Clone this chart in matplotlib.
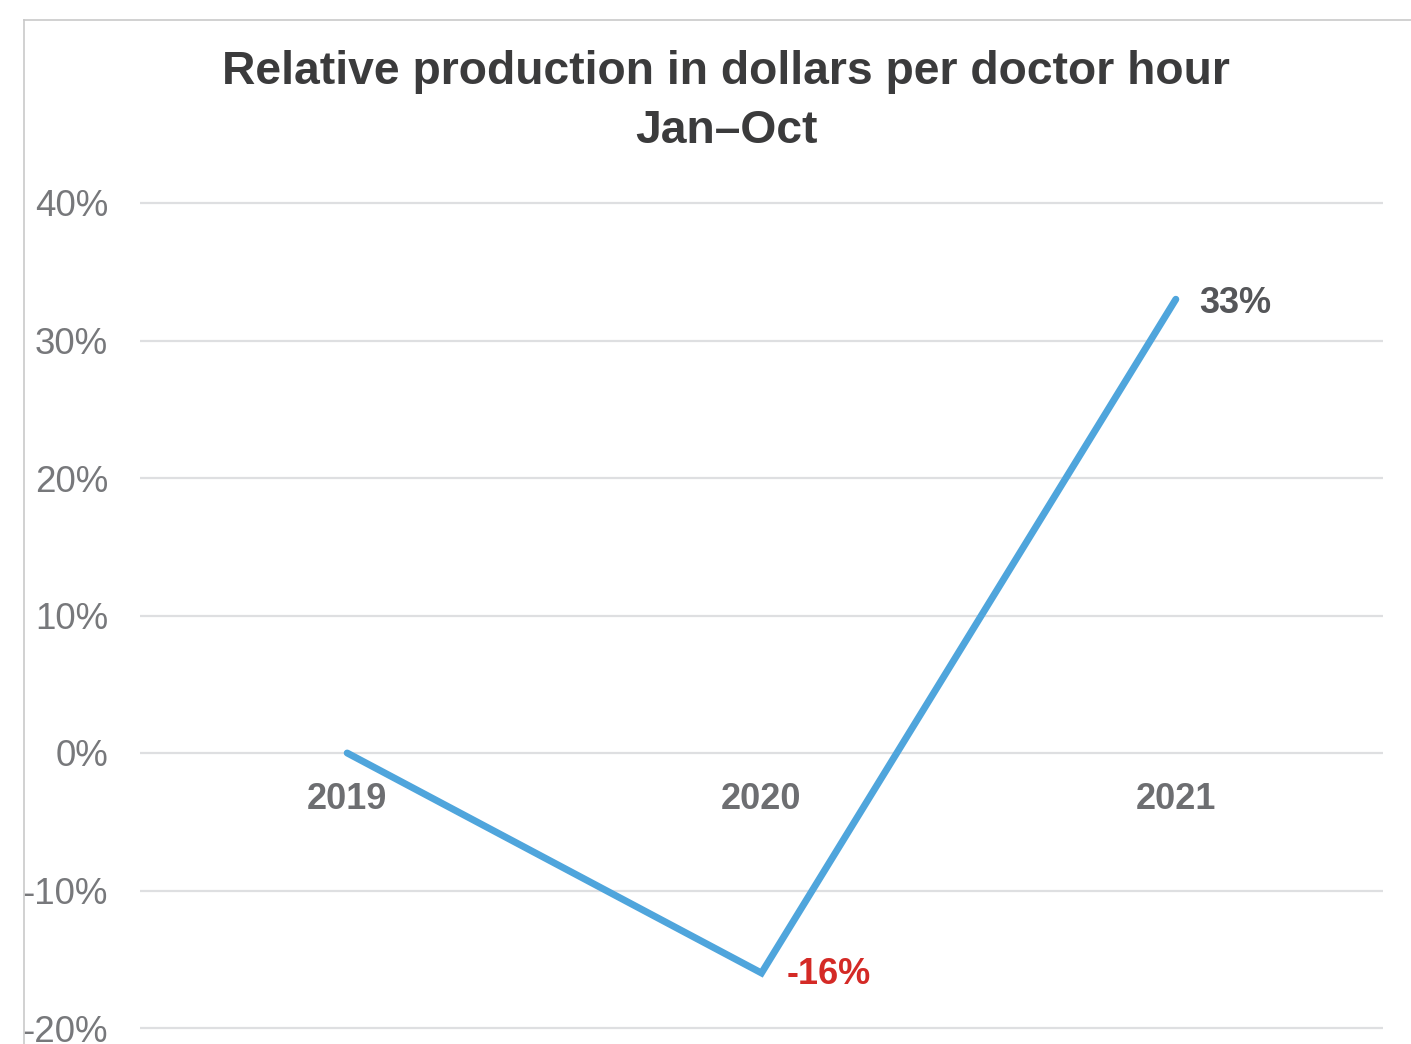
import matplotlib
matplotlib.use("Agg")
import matplotlib.pyplot as plt
from matplotlib.lines import Line2D

# Data
years = ["2019", "2020", "2021"]
relative_change = [0, -16, 33]          # percent vs 2019
y_ticks = [-20, -10, 0, 10, 20, 30, 40]
y_tick_labels = ["-20%", "-10%", "0%", "10%", "20%", "30%", "40%"]

plt.rcParams["font.family"] = ["Liberation Sans", "DejaVu Sans"]

W, H = 1411, 1044
fig = plt.figure(figsize=(W / 100, H / 100), dpi=100)
fig.patch.set_facecolor("white")

# Plot area in pixel coordinates
left_px, right_px = 140, 1383
ymin, ymax = -20.5, 40.5
px_per_unit = 13.75
zero_px = 753
top_px = zero_px - ymax * px_per_unit
bot_px = zero_px - ymin * px_per_unit
ax = fig.add_axes([left_px / W, 1 - bot_px / H,
                   (right_px - left_px) / W, (bot_px - top_px) / H])

x = list(range(len(years)))
ax.set_xlim(-0.5, len(years) - 0.5)
ax.set_ylim(ymin, ymax)

for s in ax.spines.values():
    s.set_visible(False)

ax.set_yticks(y_ticks)
ax.set_yticklabels(y_tick_labels)
ax.tick_params(axis="y", length=0, pad=23, labelsize=26.5, labelcolor="#77787b")
ax.set_xticks([])
for t in y_ticks:
    ax.axhline(t, color="#dedfe1", lw=1.6, zorder=1)

ax.plot(x, relative_change, color="#4fa5dc", lw=5, solid_joinstyle="miter",
        solid_capstyle="round", zorder=3)

# Category labels sitting just under the zero line
for xi, lab in zip(x, years):
    ax.annotate(lab, (xi, 0), xytext=(0, -33.5), textcoords="offset points",
                ha="center", va="center", fontsize=26, fontweight="bold",
                color="#6d6e71")

# Value labels
ax.annotate(f"{relative_change[1]}%", (x[1], relative_change[1]),
            xytext=(18, -1), textcoords="offset points", ha="left", va="center",
            fontsize=26, fontweight="bold", color="#d42a26")
ax.annotate(f"{relative_change[2]}%", (x[2], relative_change[2]),
            xytext=(17, -3), textcoords="offset points", ha="left", va="center",
            fontsize=26, fontweight="bold", color="#555659")

# Title
fig.text(726 / W, 1 - 72 / H, "Relative production in dollars per doctor hour",
         ha="center", va="center", fontsize=33.3, fontweight="bold", color="#3b3b3c")
fig.text(726 / W, 1 - 131 / H, "Jan\u2013Oct",
         ha="center", va="center", fontsize=33.3, fontweight="bold", color="#3b3b3c")

# Thin panel frame along the top and left
frame_col = "#c9c9c9"
fig.add_artist(Line2D([24 / W, 1.0], [1 - 20 / H, 1 - 20 / H],
                      transform=fig.transFigure, color=frame_col, lw=1.2))
fig.add_artist(Line2D([24 / W, 24 / W], [0.0, 1 - 20 / H],
                      transform=fig.transFigure, color=frame_col, lw=1.2))

fig.savefig("out.png", dpi=100)
